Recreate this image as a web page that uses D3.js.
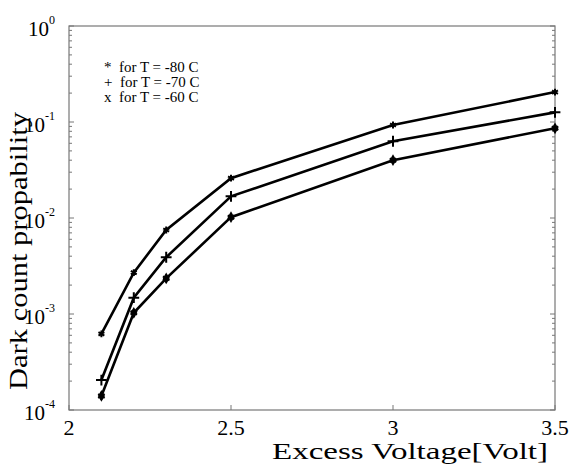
<!DOCTYPE html>
<html>
<head>
<meta charset="utf-8">
<script src="https://cdn.jsdelivr.net/npm/d3@7"></script>
<style>
  body { margin: 0; background: #fff; }
  text { font-family: "Liberation Serif", "Times New Roman", serif; fill: #000; }
</style>
</head>
<body>
<div id="chart-area"></div>
<script>
const MARGIN = { LEFT: 69, RIGHT: 15, TOP: 26, BOTTOM: 54 }
const WIDTH = 570 - MARGIN.LEFT - MARGIN.RIGHT
const HEIGHT = 464 - MARGIN.TOP - MARGIN.BOTTOM

// data
const voltages = [2.1, 2.2, 2.3, 2.5, 3.0, 3.5]
const probM80 = [6.2e-4, 2.7e-3, 7.5e-3, 0.026, 0.093, 0.205]
const probM70 = [2.05e-4, 1.48e-3, 3.9e-3, 0.0168, 0.063, 0.126]
const probM60 = [1.4e-4, 1.03e-3, 2.35e-3, 0.0102, 0.040, 0.086]
const xTicks = [2, 2.5, 3, 3.5]
const yExponents = [0, -1, -2, -3, -4]
const legendLines = ["*  for T = -80 C", "+  for T = -70 C", "x  for T = -60 C"]

const svg = d3.select("#chart-area").append("svg")
  .attr("width", 570)
  .attr("height", 464)

const g = svg.append("g")
  .attr("transform", `translate(${MARGIN.LEFT}, ${MARGIN.TOP})`)

// scales
const x = d3.scaleLinear().domain([2, 3.5]).range([0, WIDTH])
const y = d3.scaleLog().domain([1e-4, 1]).range([HEIGHT, 0])

// frame
g.append("rect")
  .attr("width", WIDTH)
  .attr("height", HEIGHT)
  .attr("fill", "none")
  .attr("stroke", "#777")
  .attr("stroke-width", 1.2)

// minor + major ticks on left and right (inside)
const minorVals = []
for (let e = -4; e < 0; e++) {
  for (let m = 2; m <= 9; m++) minorVals.push(m * Math.pow(10, e))
}
const majorVals = yExponents.map(e => Math.pow(10, e))

g.selectAll(".ytick-l")
  .data(minorVals.concat(majorVals))
  .enter().append("line")
  .attr("x1", 0)
  .attr("x2", d => majorVals.includes(d) ? 5 : 3)
  .attr("y1", d => y(d))
  .attr("y2", d => y(d))
  .attr("stroke", "#777")
g.selectAll(".ytick-r")
  .data(minorVals.concat(majorVals))
  .enter().append("line")
  .attr("x1", WIDTH)
  .attr("x2", d => WIDTH - (majorVals.includes(d) ? 5 : 3))
  .attr("y1", d => y(d))
  .attr("y2", d => y(d))
  .attr("stroke", "#777")

// bottom ticks
g.selectAll(".xtick")
  .data(xTicks)
  .enter().append("line")
  .attr("x1", d => x(d))
  .attr("x2", d => x(d))
  .attr("y1", HEIGHT)
  .attr("y2", HEIGHT - 5)
  .attr("stroke", "#777")

// x tick labels
g.selectAll(".xlabel")
  .data(xTicks)
  .enter().append("text")
  .attr("x", d => x(d))
  .attr("y", HEIGHT + 25)
  .attr("text-anchor", "middle")
  .attr("font-size", "22px")
  .text(d => d)

// y tick labels 10^e
const yl = g.selectAll(".ylabel")
  .data(yExponents)
  .enter().append("text")
  .attr("x", -14)
  .attr("y", d => y(Math.pow(10, d)) + 10)
  .attr("text-anchor", "end")
  .attr("font-size", "21px")
yl.append("tspan").text("10")
yl.append("tspan")
  .attr("font-size", "12px")
  .attr("dy", -12)
  .text(d => d)

// axis labels
svg.append("text")
  .attr("x", 410)
  .attr("y", 459)
  .attr("text-anchor", "middle")
  .attr("font-size", "24px")
  .attr("textLength", 276)
  .attr("lengthAdjust", "spacingAndGlyphs")
  .text("Excess Voltage[Volt]")

svg.append("text")
  .attr("transform", "translate(27, 251) rotate(-90)")
  .attr("text-anchor", "middle")
  .attr("font-size", "25px")
  .attr("textLength", 278)
  .attr("lengthAdjust", "spacingAndGlyphs")
  .text("Dark count propability")

// lines
const line = d3.line()
  .x((d, i) => x(voltages[i]))
  .y(d => y(d))

const series = [
  { values: probM80, symbols: [d3.symbolAsterisk], size: 32 },
  { values: probM70, symbols: [d3.symbolPlus], size: 40 },
  { values: probM60, symbols: [d3.symbolDiamond, d3.symbolAsterisk], size: 40 }
]

series.forEach(s => {
  g.append("path")
    .attr("fill", "none")
    .attr("stroke", "#000")
    .attr("stroke-width", 2.6)
    .attr("d", line(s.values))

  s.symbols.forEach(sym => {
    g.selectAll(null)
      .data(s.values)
      .enter().append("path")
      .attr("transform", (d, i) => `translate(${x(voltages[i])}, ${y(d)})`)
      .attr("d", d3.symbol().type(sym).size(s.size))
      .attr("fill", sym === d3.symbolDiamond ? "#000" : "none")
      .attr("stroke", "#000")
      .attr("stroke-width", sym === d3.symbolDiamond ? 0 : 2)
  })
})

// legend
svg.selectAll(".legend")
  .data(legendLines)
  .enter().append("text")
  .attr("x", 104)
  .attr("y", (d, i) => 72 + i * 15)
  .attr("font-size", "15px")
  .style("white-space", "pre")
  .text(d => d)
</script>
</body>
</html>
